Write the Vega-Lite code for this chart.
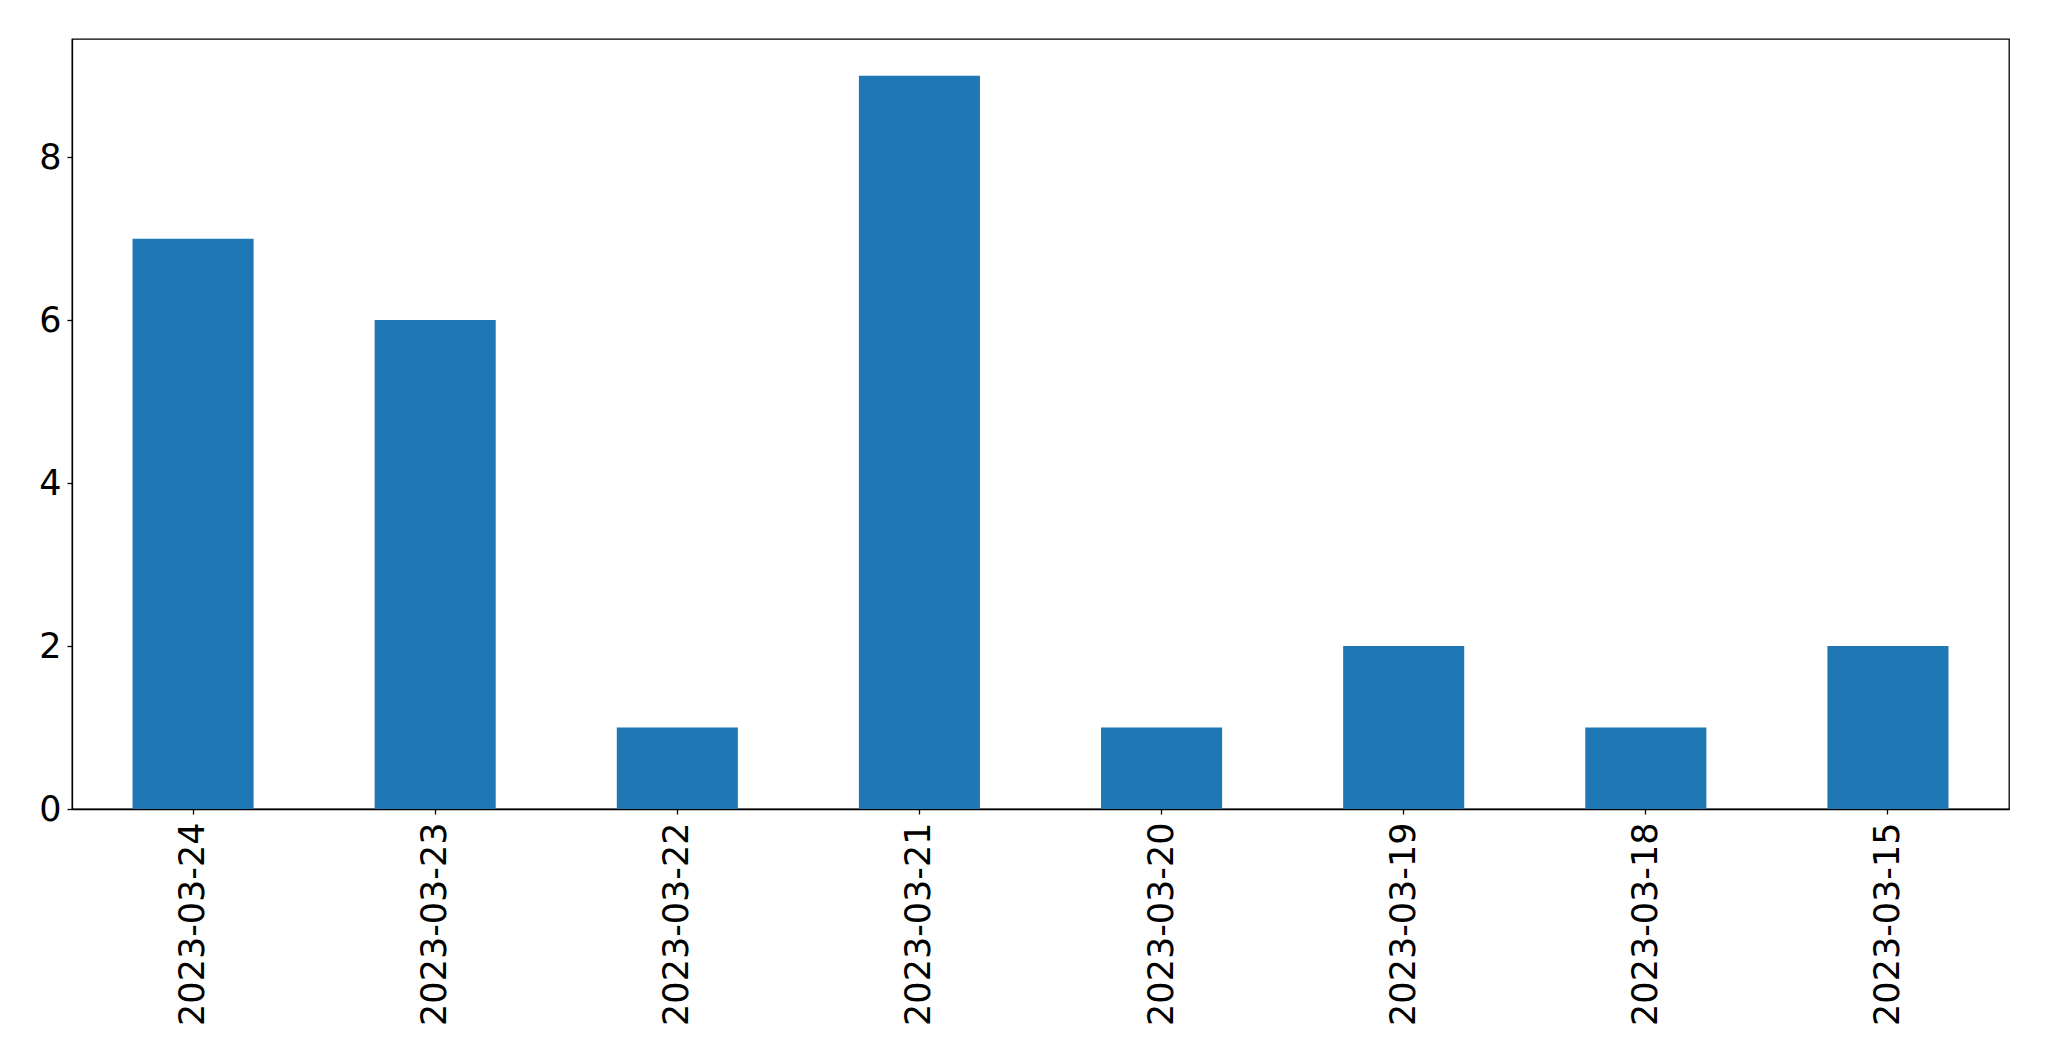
{
  "$schema": "https://vega.github.io/schema/vega-lite/v6.json",
  "autosize": "none",
  "width": 1937,
  "height": 770,
  "padding": {"left": 72, "top": 39, "right": 40, "bottom": 252},
  "background": "white",
  "config": {
    "view": {"stroke": "black", "strokeWidth": 1.3},
    "axis": {
      "labelFont": "DejaVu Sans",
      "labelFontSize": 35,
      "labelLimit": 0,
      "labelColor": "black",
      "domainColor": "black",
      "domainWidth": 1.3,
      "tickColor": "black",
      "tickWidth": 1.3,
      "tickSize": 5,
      "grid": false,
      "title": null
    }
  },
  "data": {
    "values": [
      {"date": "2023-03-24", "count": 7},
      {"date": "2023-03-23", "count": 6},
      {"date": "2023-03-22", "count": 1},
      {"date": "2023-03-21", "count": 9},
      {"date": "2023-03-20", "count": 1},
      {"date": "2023-03-19", "count": 2},
      {"date": "2023-03-18", "count": 1},
      {"date": "2023-03-15", "count": 2}
    ]
  },
  "mark": {"type": "bar", "color": "#1f77b4"},
  "encoding": {
    "x": {
      "field": "date",
      "type": "nominal",
      "sort": null,
      "scale": {"paddingInner": 0.5, "paddingOuter": 0.25},
      "axis": {"labelAngle": 270, "labelPadding": 8, "labelAlign": "right", "labelBaseline": "middle"}
    },
    "y": {
      "field": "count",
      "type": "quantitative",
      "scale": {"domain": [0, 9.45], "nice": false, "zero": true},
      "axis": {"values": [0, 2, 4, 6, 8], "labelPadding": 6}
    }
  }
}
